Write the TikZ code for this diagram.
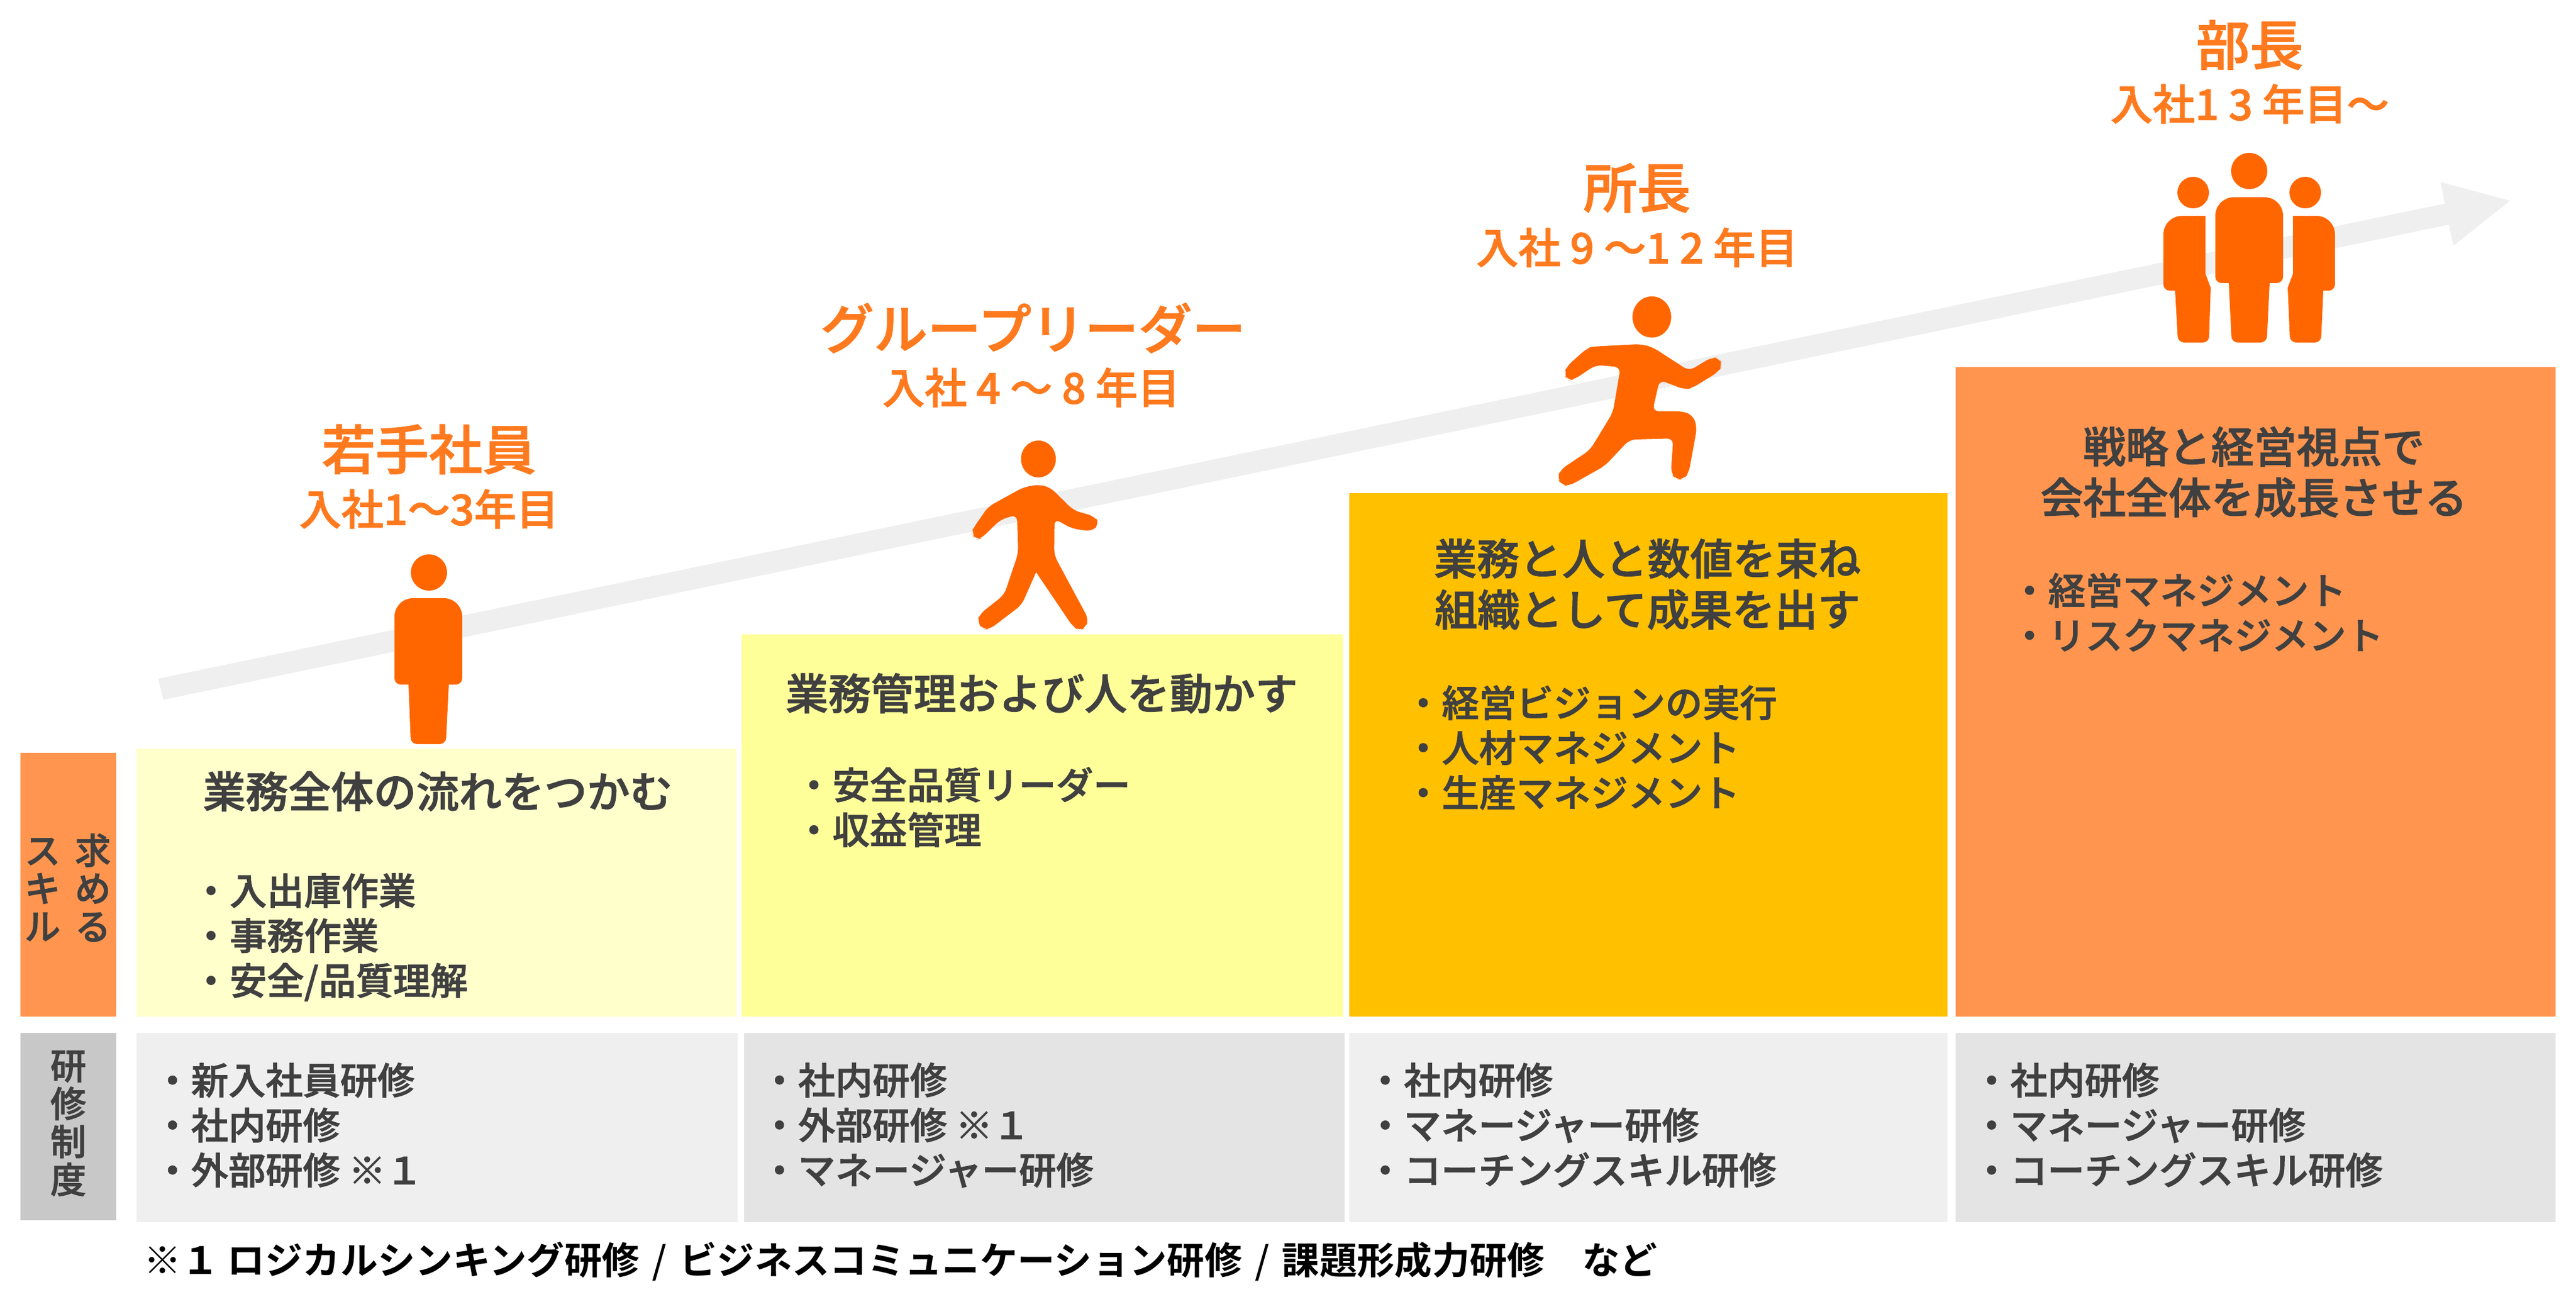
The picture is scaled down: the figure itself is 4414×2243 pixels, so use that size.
\documentclass[tikz,border=0pt]{standalone}
\usepackage{fontspec}
\setmainfont{Noto Sans CJK JP Medium}[BoldFont={Noto Sans CJK JP Medium},BoldFeatures={FakeBold=1.6}]
\newfontfamily\notefont{Noto Sans CJK JP Bold}
\usetikzlibrary{shapes,arrows}
\definecolor{titleorange}{HTML}{FF7A1E}
\definecolor{figorange}{HTML}{FF6600}
\definecolor{textgray}{HTML}{404040}
\definecolor{arrowgray}{HTML}{EFEFEF}
\definecolor{stepa}{HTML}{FFFFCC}
\definecolor{stepb}{HTML}{FFFF99}
\definecolor{stepc}{HTML}{FFC000}
\definecolor{stepd}{HTML}{FF954F}
\definecolor{traina}{HTML}{EFEFEF}
\definecolor{trainb}{HTML}{E4E4E4}
\definecolor{sidegray}{HTML}{C8C8C8}
\tikzset{
  box/.style={rectangle,inner sep=0pt,anchor=north west},
  rolename/.style={inner sep=0pt,text=titleorange,font=\bfseries\fontsize{26.1}{30}\selectfont},
  years/.style={inner sep=0pt,text=titleorange,font=\bfseries\fontsize{20.6}{25}\selectfont},
  goal/.style={inner sep=0pt,align=center,text=textgray,font=\bfseries\fontsize{20.8}{24.8}\selectfont},
  items/.style={inner sep=0pt,anchor=west,align=left,text=textgray,font=\bfseries\fontsize{18.15}{21.9}\selectfont},
  side/.style={inner sep=0pt,align=center,text=textgray,font=\bfseries\fontsize{17.5}{18.5}\selectfont},
  figure/.style={fill=figorange}
}
\begin{document}
\begin{tikzpicture}[x=0.01cm,y=-0.01cm]
  \useasboundingbox (0,0) rectangle (4414,2243);

  % 背景の矢印
  \fill[arrowgray] (271,1163) -- (4189,349) -- (4182,312) -- (4301,344) -- (4204,421) -- (4196,385) -- (280,1199) -- cycle;

  % 求めるスキルの段
  \node[box,fill=stepd,minimum width=1.64cm,minimum height=4.52cm] (skillhead) at (34,1289) {};
  \node[box,fill=stepa,minimum width=10.28cm,minimum height=4.59cm] (skilla) at (233,1282) {};
  \node[box,fill=stepb,minimum width=10.30cm,minimum height=6.55cm] (skillb) at (1270,1086) {};
  \node[box,fill=stepc,minimum width=10.25cm,minimum height=8.97cm] (skillc) at (2311,844) {};
  \node[box,fill=stepd,minimum width=10.28cm,minimum height=11.13cm] (skilld) at (3350,628) {};

  % 研修制度の段
  \node[box,fill=sidegray,minimum width=1.64cm,minimum height=3.21cm] (trainhead) at (34,1769) {};
  \node[box,fill=traina,minimum width=10.30cm,minimum height=3.24cm] (traina) at (233,1769) {};
  \node[box,fill=trainb,minimum width=10.29cm,minimum height=3.24cm] (trainb) at (1274,1769) {};
  \node[box,fill=traina,minimum width=10.25cm,minimum height=3.24cm] (trainc) at (2311,1769) {};
  \node[box,fill=trainb,minimum width=10.28cm,minimum height=3.24cm] (traind) at (3350,1769) {};

  % 左の見出し
  \node[side] (skilltext) at (116,1521) {ス\hspace{7pt}求\\キ\hspace{7pt}め\\ル\hspace{7pt}る};
  \node[side] (traintext) at (117,1925) {研\\修\\制\\度};

  % 役職と年次
  \node[rolename] (rolea) at (735,770) {若手社員};
  \node[years] (yearsa) at (735,872) {入社1～3年目};
  \node[rolename] (roleb) at (1770,562) {グループリーダー};
  \node[years] (yearsb) at (1767,664) {入社 4 ～ 8 年目};
  \node[rolename] (rolec) at (2805,322) {所長};
  \node[years] (yearsc) at (2805,424) {入社 9 ～1 2 年目};
  \node[rolename] (roled) at (3855,77) {部長};
  \node[years] (yearsd) at (3855,178) {入社1 3 年目～};

  % スキルの内容
  \node[goal] (goala) at (750,1356) {業務全体の流れをつかむ};
  \node[items] (itemsa) at (329,1606) {・入出庫作業\\・事務作業\\・安全/品質理解};
  \node[goal] (goalb) at (1785,1188) {業務管理および人を動かす};
  \node[items] (itemsb) at (1362,1383) {・安全品質リーダー\\・収益管理};
  \node[goal] (goalc) at (2823,1001) {業務と人と数値を束ね\\組織として成果を出す};
  \node[items] (itemsc) at (2406,1281) {・経営ビジョンの実行\\・人材マネジメント\\・生産マネジメント};
  \node[goal] (goald) at (3862,809) {戦略と経営視点で\\会社全体を成長させる};
  \node[items] (itemsd) at (3445,1049) {・経営マネジメント\\・リスクマネジメント};

  % 研修の内容
  \node[items] (coursea) at (263,1928) {・新入社員研修\\・社内研修\\・外部研修 ※１};
  \node[items] (courseb) at (1303,1928) {・社内研修\\・外部研修 ※１\\・マネージャー研修};
  \node[items] (coursec) at (2341,1928) {・社内研修\\・マネージャー研修\\・コーチングスキル研修};
  \node[items] (coursed) at (3380,1928) {・社内研修\\・マネージャー研修\\・コーチングスキル研修};

  % 注記
  \node[items,text=black,font=\notefont\fontsize{18.3}{21.9}\selectfont] (note) at (246,2161) {※１ ロジカルシンキング研修\hspace{2pt} {\normalfont\fontsize{18.3}{21.9}\selectfont /} \hspace{2pt}ビジネスコミュニケーション研修\hspace{2pt} {\normalfont\fontsize{18.3}{21.9}\selectfont /} \hspace{2pt}課題形成力研修　など};

  % 立っている人
  \fill[figure] (735,981) ellipse [x radius=31,y radius=31];
  \fill[figure] (700,1173) [rounded corners=3pt] -- (676,1173) [rounded corners=9pt] -- (676,1025) -- (792,1025) [rounded corners=3pt] -- (792,1173) [sharp corners] -- (769,1173) [rounded corners=3pt] -- (764,1275) -- (704,1275) [sharp corners] -- cycle;

  % 歩いている人
  \begin{scope}[shift={(1300,480)},x=0.00574cm,y=-0.004146cm]
    \fill[figure] (835,738) ellipse [x radius=52,y radius=76];
    \fill[figure,rounded corners=3pt] (835,843) -- (870,855) -- (940,950) -- (1003,975) -- (1017,1005) -- (995,1037) -- (935,1025) -- (883,985) -- (882,1135) -- (985,1400) -- (975,1435) -- (958,1447) -- (938,1430) [sharp corners] -- (828,1205) [rounded corners=3pt] -- (785,1340) -- (690,1440) -- (670,1442) -- (652,1410) -- (660,1378) -- (733,1298) -- (775,1125) -- (771,968) -- (722,988) -- (665,1065) -- (650,1072) -- (635,1045) -- (640,1025) -- (685,935) -- (790,855) -- cycle;
  \end{scope}

  % 走っている人
  \begin{scope}[shift={(2500,250)},x=0.0051cm,y=-0.004146cm]
    \fill[figure] (648,706) ellipse [x radius=65,y radius=85];
    \fill[figure,rounded corners=3pt] (450,828) -- (610,818) -- (650,830) -- (773,928) -- (850,872) -- (875,875) -- (885,905) -- (872,932) -- (785,998) -- (760,1006) -- (674,966) -- (650,1095) -- (750,1095) -- (785,1110) -- (800,1160) -- (772,1350) -- (755,1375) -- (730,1378) -- (712,1350) -- (720,1207) -- (573,1212) -- (490,1320) -- (370,1403) -- (345,1400) -- (330,1370) -- (342,1335) -- (440,1255) -- (517,1100) -- (543,913) -- (460,904) -- (385,965) -- (365,968) -- (353,940) -- (362,910) -- (430,835) -- cycle;
  \end{scope}

  % 三人の人
  \fill[figure] (3854,293) ellipse [x radius=31,y radius=31];
  \fill[figure] (3819,485) [rounded corners=3pt] -- (3796,485) [rounded corners=9pt] -- (3796,338) -- (3912,338) [rounded corners=3pt] -- (3912,485) [sharp corners] -- (3889,485) [rounded corners=3pt] -- (3884,587) -- (3824,587) [sharp corners] -- cycle;
  \fill[figure] (3758,330) ellipse [x radius=27,y radius=27];
  \fill[figure] (3727,498) [rounded corners=3pt] -- (3707,498) [rounded corners=9pt] -- (3707,370) [sharp corners] -- (3779,370) -- (3779,469) -- (3788,493) [rounded corners=3pt] -- (3785,587) -- (3732,587) [sharp corners] -- cycle;
  \fill[figure] (3950,330) ellipse [x radius=27,y radius=27];
  \fill[figure] (3981,498) [rounded corners=3pt] -- (4001,498) [rounded corners=9pt] -- (4001,370) [sharp corners] -- (3929,370) -- (3929,469) -- (3920,493) [rounded corners=3pt] -- (3924,587) -- (3977,587) [sharp corners] -- cycle;
\end{tikzpicture}
\end{document}
